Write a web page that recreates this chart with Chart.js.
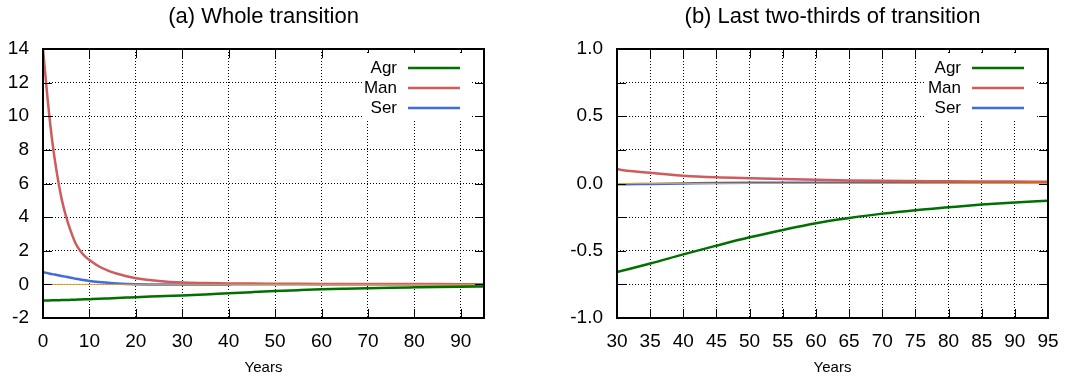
<!DOCTYPE html>
<html lang="en">
<head>
  <meta charset="UTF-8" />
  <title>Transition</title>
  <style>
    body {
      margin: 0;
      background: white;
      font-family: "Liberation Sans", Arial, sans-serif;
    }
    .panel {
      position: absolute;
      top: 0;
      height: 379px;
    }
    #left { left: 0; width: 537px; }
    #right { left: 537px; width: 538px; }
  </style>
  <script src="https://cdn.jsdelivr.net/npm/chart.js"></script>
</head>
<body>

<div class="panel" id="left"><canvas id="chartA"></canvas></div>
<div class="panel" id="right"><canvas id="chartB"></canvas></div>

<script>
  const years = [0, 1, 2, 3, 4, 5, 6, 7, 8, 9, 10, 12, 14, 16, 18, 20, 25, 30, 35, 40, 45, 50, 55, 60, 65, 70, 75, 80, 85, 90, 95];
  const agr = [-0.97, -0.96, -0.95, -0.945, -0.935, -0.93, -0.92, -0.91, -0.9, -0.89, -0.88, -0.86, -0.835, -0.81, -0.785, -0.76, -0.71, -0.658, -0.595, -0.527, -0.462, -0.4, -0.345, -0.295, -0.257, -0.224, -0.198, -0.177, -0.157, -0.141, -0.128];
  const man = [14, 11.0, 8.5, 6.6, 5.1, 4.0, 3.15, 2.45, 2.0, 1.68, 1.45, 1.08, 0.82, 0.63, 0.48, 0.37, 0.2, 0.108, 0.08, 0.058, 0.046, 0.039, 0.033, 0.027, 0.023, 0.02, 0.018, 0.016, 0.015, 0.014, 0.013];
  const ser = [0.73, 0.67, 0.61, 0.56, 0.5, 0.45, 0.39, 0.34, 0.29, 0.24, 0.2, 0.14, 0.09, 0.05, 0.025, 0.01, -0.006, -0.006, -0.003, 0.0, 0.003, 0.005, 0.006, 0.006, 0.006, 0.006, 0.006, 0.006, 0.006, 0.006, 0.006];

  const seriesNames = ["Agr", "Man", "Ser"];
  const seriesColors = ["#007000", "#cf5b5b", "#4169e1"];
  const seriesData = [agr, man, ser];

  const FONT = "'Liberation Sans', Arial, sans-serif";
  const TICK = 9;

  function makeDatasets() {
    return seriesData.map((vals, i) => ({
      label: seriesNames[i],
      data: years.map((y, j) => ({ x: y, y: vals[j] })),
      borderColor: seriesColors[i],
      borderWidth: 2.5,
      pointRadius: 0,
      cubicInterpolationMode: "monotone",
      fill: false
    }));
  }

  // gnuplot style frame: title, zero axis, inward ticks, border, key box
  const framePlugin = {
    id: "frame",
    afterDatasetsDraw(chart, args, opts) {
      const ctx = chart.ctx;
      const a = chart.chartArea;
      const xs = chart.scales.x, ys = chart.scales.y;
      ctx.save();

      // zero line
      const y0 = ys.getPixelForValue(0);
      ctx.strokeStyle = "#e0a020";
      ctx.lineWidth = 1;
      ctx.beginPath();
      ctx.moveTo(a.left, y0);
      ctx.lineTo(a.right, y0);
      ctx.stroke();

      // inward ticks
      ctx.strokeStyle = "#000";
      ctx.lineWidth = 1;
      ctx.beginPath();
      xs.ticks.forEach(t => {
        const px = Math.round(xs.getPixelForValue(t.value)) + 0.5;
        ctx.moveTo(px, a.bottom); ctx.lineTo(px, a.bottom - TICK);
        ctx.moveTo(px, a.top); ctx.lineTo(px, a.top + TICK);
      });
      ys.ticks.forEach(t => {
        const py = Math.round(ys.getPixelForValue(t.value)) + 0.5;
        ctx.moveTo(a.left, py); ctx.lineTo(a.left + TICK, py);
        ctx.moveTo(a.right, py); ctx.lineTo(a.right - TICK, py);
      });
      ctx.stroke();

      // key
      const lineEnd = a.right - 24, lineStart = lineEnd - 52, textRight = lineStart - 11;
      ctx.fillStyle = "#fff";
      ctx.fillRect(textRight - 35, a.top + 4, lineEnd + 12 - (textRight - 35), 67);
      ctx.font = "17px " + FONT;
      ctx.textAlign = "right";
      ctx.textBaseline = "middle";
      chart.data.datasets.forEach((ds, i) => {
        const ry = a.top + 19 + i * 20;
        ctx.fillStyle = "#000";
        ctx.fillText(ds.label, textRight, ry);
        ctx.strokeStyle = ds.borderColor;
        ctx.lineWidth = 2.5;
        ctx.beginPath();
        ctx.moveTo(lineStart, ry);
        ctx.lineTo(lineEnd, ry);
        ctx.stroke();
      });

      // border
      ctx.strokeStyle = "#000";
      ctx.lineWidth = 2;
      ctx.strokeRect(a.left, a.top, a.right - a.left, a.bottom - a.top);

      // title
      ctx.fillStyle = "#000";
      ctx.font = "22px " + FONT;
      ctx.textAlign = "center";
      ctx.textBaseline = "middle";
      ctx.fillText(opts.text, (a.left + a.right) / 2, 17);
      ctx.restore();
    }
  };

  function makeChart(id, title, xMin, xStep, yMin, yMax, yStep, yLabel, leftW, rightPad) {
    return new Chart(document.getElementById(id), {
      type: "line",
      data: { datasets: makeDatasets() },
      plugins: [framePlugin],
      options: {
        responsive: true,
        maintainAspectRatio: false,
        animation: false,
        layout: { padding: { top: 49, right: rightPad, left: 0, bottom: 0 } },
        plugins: {
          legend: { display: false },
          tooltip: { enabled: false },
          frame: { text: title }
        },
        scales: {
          x: {
            type: "linear",
            min: xMin,
            max: 95,
            afterFit: s => { s.height = 61; },
            ticks: {
              stepSize: xStep,
              includeBounds: false,
              padding: 12,
              color: "#000",
              font: { family: FONT, size: 19 }
            },
            grid: { color: "#000", lineWidth: 1, drawTicks: false },
            border: { display: false, dash: [1, 2] },
            title: {
              display: true,
              text: "Years",
              color: "#000",
              padding: { top: 0, bottom: 2 },
              font: { family: FONT, size: 15 }
            }
          },
          y: {
            min: yMin,
            max: yMax,
            afterFit: s => { s.width = leftW; },
            ticks: {
              stepSize: yStep,
              padding: 14,
              color: "#000",
              font: { family: FONT, size: 19 },
              callback: yLabel
            },
            grid: { color: "#000", lineWidth: 1, drawTicks: false },
            border: { display: false, dash: [1, 2] }
          }
        }
      }
    });
  }

  makeChart("chartA", "(a) Whole transition", 0, 10, -2, 14, 2,
    v => String(v), 43, 53);

  makeChart("chartB", "(b) Last two-thirds of transition", 30, 5, -1, 1, 0.25,
    v => (Math.abs(v * 2 - Math.round(v * 2)) < 1e-9 ? v.toFixed(1) : ""), 80, 27);
</script>

</body>
</html>
